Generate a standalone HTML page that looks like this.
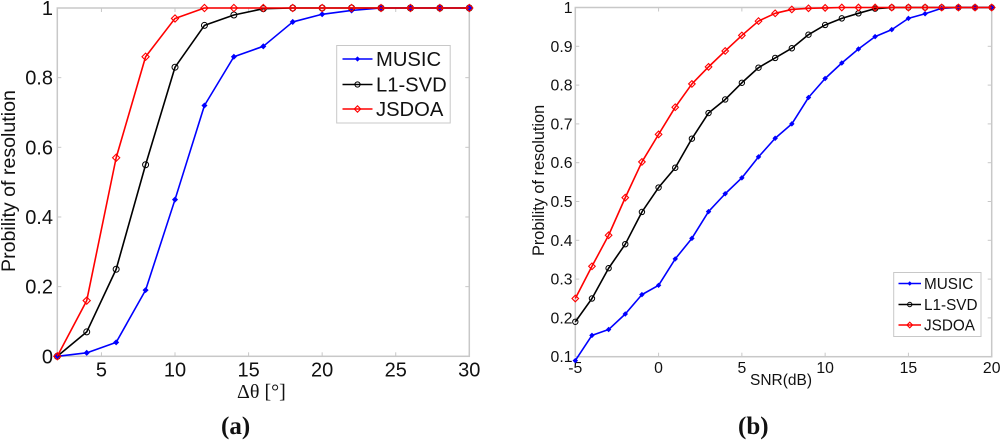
<!DOCTYPE html>
<html>
<head>
<meta charset="utf-8">
<style>
html,body{margin:0;padding:0;background:#fff;}
svg{display:block;filter:blur(0.35px);}
text{font-family:"Liberation Sans",sans-serif;fill:#111;}
</style>
</head>
<body>
<svg id="fig" width="1000" height="441" viewBox="0 0 1000 441" xmlns="http://www.w3.org/2000/svg"></svg>
<script>
const xTicksA = [5, 10, 15, 20, 25, 30];
const yTicksA = [0, 0.2, 0.4, 0.6, 0.8, 1];
const xValuesA = [2, 4, 6, 8, 10, 12, 14, 16, 18, 20, 22, 24, 26, 28, 30];
const musicA = [0, 0.01, 0.04, 0.19, 0.45, 0.72, 0.86, 0.89, 0.96, 0.982, 0.993, 1, 1, 1, 1];
const l1svdA = [0, 0.07, 0.25, 0.55, 0.83, 0.95, 0.98, 0.998, 1, 1, 1, 1, 1, 1, 1];
const jsdoaA = [0, 0.16, 0.57, 0.86, 0.97, 1, 1, 1, 1, 1, 1, 1, 1, 1, 1];

const xTicksB = [-5, 0, 5, 10, 15, 20];
const yTicksB = [0.1, 0.2, 0.3, 0.4, 0.5, 0.6, 0.7, 0.8, 0.9, 1];
const xValuesB = [-5, -4, -3, -2, -1, 0, 1, 2, 3, 4, 5, 6, 7, 8, 9, 10, 11, 12, 13, 14, 15, 16, 17, 18, 19, 20];
const musicB = [0.09, 0.155, 0.17, 0.21, 0.26, 0.284, 0.352, 0.405, 0.474, 0.52, 0.561, 0.615, 0.663, 0.70, 0.768, 0.817, 0.857, 0.893, 0.925, 0.943, 0.972, 0.984, 0.998, 1, 1, 1];
const l1svdB = [0.19, 0.25, 0.328, 0.39, 0.473, 0.536, 0.587, 0.662, 0.728, 0.763, 0.806, 0.845, 0.87, 0.895, 0.93, 0.955, 0.972, 0.985, 0.997, 1, 1, 1, 1, 1, 1, 1];
const jsdoaB = [0.25, 0.333, 0.413, 0.51, 0.602, 0.673, 0.743, 0.803, 0.847, 0.888, 0.928, 0.965, 0.985, 0.995, 0.998, 0.999, 1, 1, 1, 1, 1, 1, 1, 1, 1, 1];

const seriesNames = ['MUSIC', 'L1-SVD', 'JSDOA'];

const NS = 'http://www.w3.org/2000/svg';
const fig = document.getElementById('fig');
function mk(tag, attrs, parent, txt) {
  const e = document.createElementNS(NS, tag);
  for (const k in attrs) e.setAttribute(k, attrs[k]);
  if (txt !== undefined) e.textContent = txt;
  (parent || fig).appendChild(e);
  return e;
}
const AXIS = '#c8c8c8';
const COL = { MUSIC: '#0000ff', 'L1-SVD': '#000000', JSDOA: '#ff0000' };

function marker(g, name, x, y, s) {
  if (name === 'MUSIC') {
    mk('path', { d: `M${x-s},${y}L${x},${y-s}L${x+s},${y}L${x},${y+s}Z`, fill: COL.MUSIC, stroke: COL.MUSIC, 'stroke-width': 0.9 }, g);
  } else if (name === 'L1-SVD') {
    mk('circle', { cx: x, cy: y, r: s + 0.6, fill: 'none', stroke: COL['L1-SVD'], 'stroke-width': 1 }, g);
  } else {
    mk('path', { d: `M${x-s-1.2},${y}L${x},${y-s-1.2}L${x+s+1.2},${y}L${x},${y+s+1.2}Z`, fill: 'none', stroke: COL.JSDOA, 'stroke-width': 1.1 }, g);
  }
}

function panel(p) {
  const root = mk('g', {});
  
  
  const sx = v => p.left + (v - p.xMin) / (p.xMax - p.xMin) * (p.right - p.left);
  const sy = v => p.bottom - (v - p.yMin) / (p.yMax - p.yMin) * (p.bottom - p.top);

  const frame = mk('rect', { x: p.left, y: p.top, width: p.right - p.left, height: p.bottom - p.top, fill: 'none', stroke: AXIS, 'stroke-width': 1.5 }, root);
  
  

  const xAxis = mk('g', {}, root);
  
  
  p.xTicks.forEach(t => {
    const x = sx(t);
    mk('line', { x1: x, x2: x, y1: p.bottom, y2: p.bottom - 4, stroke: AXIS, 'stroke-width': 1 }, xAxis);
    mk('line', { x1: x, x2: x, y1: p.top, y2: p.top + 4, stroke: AXIS, 'stroke-width': 1 }, xAxis);
    const lab = mk('text', { x: x, y: p.xTickY, 'font-size': p.tickSize, 'text-anchor': 'middle' }, xAxis, String(t));
    
    
  });

  const yAxis = mk('g', {}, root);
  
  
  p.yTicks.forEach(t => {
    const y = sy(t);
    mk('line', { x1: p.left, x2: p.left + 4, y1: y, y2: y, stroke: AXIS, 'stroke-width': 1 }, yAxis);
    mk('line', { x1: p.right, x2: p.right - 4, y1: y, y2: y, stroke: AXIS, 'stroke-width': 1 }, yAxis);
    const lab = mk('text', { x: p.yTickX, y: y + p.tickDy, 'font-size': p.tickSize, 'text-anchor': 'end' }, yAxis, String(t));
    
    
  });

  seriesNames.forEach((name, i) => {
    const g = mk('g', {}, root);
    
    
    const vals = p.series[i];
    const pts = vals.map((v, k) => sx(p.xs[k]).toFixed(2) + ',' + sy(v).toFixed(2)).join(' ');
    mk('polyline', { points: pts, fill: 'none', stroke: COL[name], 'stroke-width': 1.6, 'stroke-linejoin': 'round' }, g);
    vals.forEach((v, k) => marker(g, name, sx(p.xs[k]), sy(v), p.mark));
  });

  const yl = mk('text', { transform: `translate(${p.yLabX},${p.yLabY}) rotate(-90)`, 'font-size': p.yLabSize }, root, 'Probility of resolution');
  
  

  const lg = mk('g', {}, root);
  
  
  mk('rect', { x: p.lg.x, y: p.lg.y, width: p.lg.w, height: p.lg.h, fill: '#fff', stroke: AXIS, 'stroke-width': 1 }, lg);
  seriesNames.forEach((name, i) => {
    const e = mk('g', {}, lg);
    
    
    const y = p.lg.rows[i];
    mk('line', { x1: p.lg.x1, x2: p.lg.x2, y1: y, y2: y, stroke: COL[name], 'stroke-width': 1.4 }, e);
    marker(e, name, (p.lg.x1 + p.lg.x2) / 2, y, p.lgMark);
    mk('text', { x: p.lg.tx, y: y + p.lg.dy, 'font-size': p.lg.size }, e, name);
  });
}

panel({
  id: 'panel-a', left: 57.3, right: 469.3, top: 8, bottom: 356.3,
  xMin: 2, xMax: 30, yMin: 0, yMax: 1,
  xTicks: xTicksA, yTicks: yTicksA, xs: xValuesA, series: [musicA, l1svdA, jsdoaA],
  tickSize: 20, xTickY: 376.5, yTickX: 53, tickDy: 7, mark: 2.4, lgMark: 2,
  yLabX: 15, yLabY: 272, yLabSize: 19.6,
  lg: { x: 336.7, y: 45.5, w: 113.5, h: 77.5, x1: 342.5, x2: 372.5, tx: 376, rows: [59, 84.5, 109], dy: 7, size: 20.2 }
});
panel({
  id: 'panel-b', left: 575.3, right: 991.7, top: 7.5, bottom: 356.7,
  xMin: -5, xMax: 20, yMin: 0.1, yMax: 1,
  xTicks: xTicksB, yTicks: yTicksB, xs: xValuesB, series: [musicB, l1svdB, jsdoaB],
  tickSize: 15.8, xTickY: 373, yTickX: 572.5, tickDy: 5.5, mark: 2.1, lgMark: 1.6,
  yLabX: 544, yLabY: 256, yLabSize: 16.3,
  lg: { x: 893.7, y: 272.5, w: 87.3, h: 64, x1: 898.5, x2: 921, tx: 924, rows: [283.5, 304.5, 325], dy: 5.5, size: 15.3 }
});

const xa = mk('text', { x: 237, y: 398, 'font-size': 20 }, fig, 'Δθ [°]');


xa.style.fontFamily = '"Liberation Serif",serif';
const xb = mk('text', { x: 750, y: 385, 'font-size': 15.5 }, fig, 'SNR(dB)');


const ca = mk('text', { x: 221, y: 434, 'font-size': 25, 'font-weight': 'bold' }, fig, '(a)');


ca.style.fontFamily = '"Liberation Serif",serif';
const cb = mk('text', { x: 738, y: 434, 'font-size': 25, 'font-weight': 'bold' }, fig, '(b)');


cb.style.fontFamily = '"Liberation Serif",serif';
</script>
</body>
</html>
